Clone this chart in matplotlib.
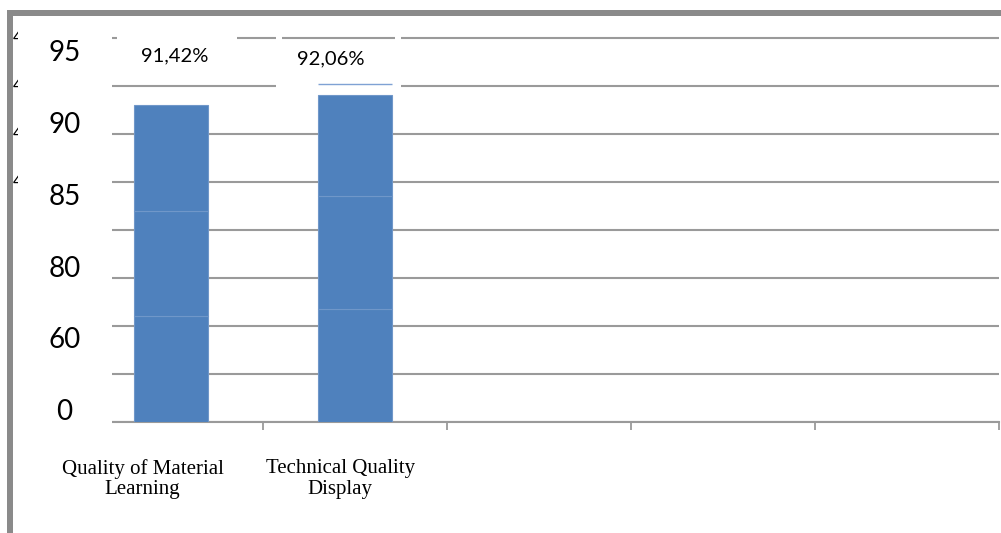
import numpy as np
import matplotlib.pyplot as plt
from matplotlib.patches import Rectangle
from matplotlib.transforms import blended_transform_factory

# --- data -------------------------------------------------------------
categories = ["Quality of Material\nLearning", "Technical Quality\nDisplay"]
n_slots = 5                      # the category axis keeps five slots
totals = [91.42, 92.06]          # stated percentages
seg_low = [66.85, 68.80]         # stacked parts
seg_mid = [17.18, 16.27]
seg_cap = [0.00, 0.79]           # thin outline above the bar
axis_labels = ["95", "90", "85", "80", "60", "0"]

# --- layout constants (pixels) ---------------------------------------
W, H = 1001, 533
AX_LEFT, AX_RIGHT, AX_BOTTOM, AX_TOP = 79, 999, 422, 36
GRID_STEP = 48
# piecewise value -> height-above-axis mapping used by the value axis
knot_vals = [0, 60, 80, 85, 90, 95, 100]
knot_px = [0, 81.5, 153, 225, 297, 369, 441]

BAR_COLOR = "#4f81bd"
GRID_COLOR = "#9a9a9a"
FRAME_COLOR = "#8a8a8a"


def fwd(v):
    return np.interp(np.asarray(v, dtype=float), knot_vals, knot_px)


def inv(p):
    return np.interp(np.asarray(p, dtype=float), knot_px, knot_vals)


def fx(x):
    return x / W


def fy(y):
    return 1 - y / H


fig = plt.figure(figsize=(W / 100, H / 100), dpi=100)
fig.patch.set_facecolor("white")

ax = fig.add_axes([fx(AX_LEFT), fy(AX_BOTTOM),
                   (AX_RIGHT - AX_LEFT) / W, (AX_BOTTOM - AX_TOP) / H])
ax.set_yscale("function", functions=(fwd, inv))
ax.set_xlim(-0.5, n_slots - 0.5)
ax.set_ylim(0, float(inv(AX_BOTTOM - AX_TOP)))

# evenly spaced gridlines
grid_vals = inv(np.arange(0, AX_BOTTOM - AX_TOP, GRID_STEP))
ax.set_yticks(grid_vals)
ax.yaxis.grid(True, color=GRID_COLOR, linewidth=1.5)
ax.set_axisbelow(True)
ax.tick_params(axis="y", left=False, labelleft=False)

# category boundaries as ticks
ax.set_xticks(np.arange(n_slots) + 0.5)
ax.tick_params(axis="x", direction="out", length=5.8, width=1.3,
               color=GRID_COLOR, labelbottom=False)
for side in ["left", "right", "top"]:
    ax.spines[side].set_visible(False)
ax.spines["bottom"].set_color(GRID_COLOR)
ax.spines["bottom"].set_linewidth(1.5)

# white boxes behind the value labels
for (x0, y0, x1, y1) in [(117, 20, 237, 76), (276, 40, 401, 89.5)]:
    ax.add_patch(Rectangle((fx(x0), fy(y1)), fx(x1) - fx(x0), fy(y0) - fy(y1),
                           transform=fig.transFigure, facecolor="white",
                           edgecolor="none", zorder=1, clip_on=False))
# small breaks in the top gridline beside the second box
for (x0, x1) in [(276, 282), (395, 401)]:
    ax.add_patch(Rectangle((fx(x0), fy(41)), fx(x1) - fx(x0), fy(35) - fy(41),
                           transform=fig.transFigure, facecolor="white",
                           edgecolor="none", zorder=1, clip_on=False))

# stacked bars
x = np.arange(len(categories))
seg_top = [t - a - b for t, a, b in zip(totals, seg_low, seg_mid)]
bottom = np.zeros(len(categories))
for seg in [seg_low, seg_mid, seg_top]:
    ax.bar(x, seg, 0.4, bottom=bottom, color=BAR_COLOR,
           edgecolor="#7097c9", linewidth=0.8, zorder=3)
    bottom += np.array(seg)

for xi, t, c in zip(x, totals, seg_cap):
    if c > 0:
        ax.hlines(t + c, xi - 0.2, xi + 0.2, color="#7fa2d4",
                  linewidth=1.0, zorder=3)

# value labels
label_px = [(174.5, 55.5), (330.5, 59)]
for t, (lx, ly) in zip(totals, label_px):
    fig.text(fx(lx), fy(ly), f"{t:.2f}%".replace(".", ","),
             family="Lato", fontsize=14.5, ha="center", va="center", zorder=4)

# category labels
cat_shift = [-0.155, -0.08]
tr = blended_transform_factory(ax.transData, fig.transFigure)
for xi, name, dx in zip(x, categories, cat_shift):
    ax.text(xi + dx, fy(479), name, transform=tr, family="Liberation Serif",
            fontsize=15, ha="center", va="center", linespacing=1.1,
            clip_on=False)

# remains of the original axis labels, partly hidden
for k in range(4):
    fig.text(fx(12.5), fy(38 + GRID_STEP * k), "4", family="Lato",
             fontsize=12, ha="left", va="center", zorder=1.5)

# overlay box carrying the value axis labels
fig.add_artist(Rectangle((fx(18), fy(432)), fx(112) - fx(18), fy(20) - fy(432),
                         transform=fig.transFigure, facecolor="white",
                         edgecolor="none", zorder=2))
label_y = [53, 125, 197, 269, 340.5, 412]
for txt, ly in zip(axis_labels, label_y):
    fig.text(fx(64.5), fy(ly), txt, family="Lato", fontsize=20,
             ha="center", va="center", zorder=3)

# grey frame on the top and left
fig.add_artist(Rectangle((fx(7), fy(16)), fx(W) - fx(7), fy(10) - fy(16),
                         transform=fig.transFigure, facecolor=FRAME_COLOR,
                         edgecolor="none", zorder=5))
fig.add_artist(Rectangle((fx(7), 0), fx(13) - fx(7), fy(10),
                         transform=fig.transFigure, facecolor=FRAME_COLOR,
                         edgecolor="none", zorder=5))

fig.savefig("out.png", dpi=100, facecolor="white")
